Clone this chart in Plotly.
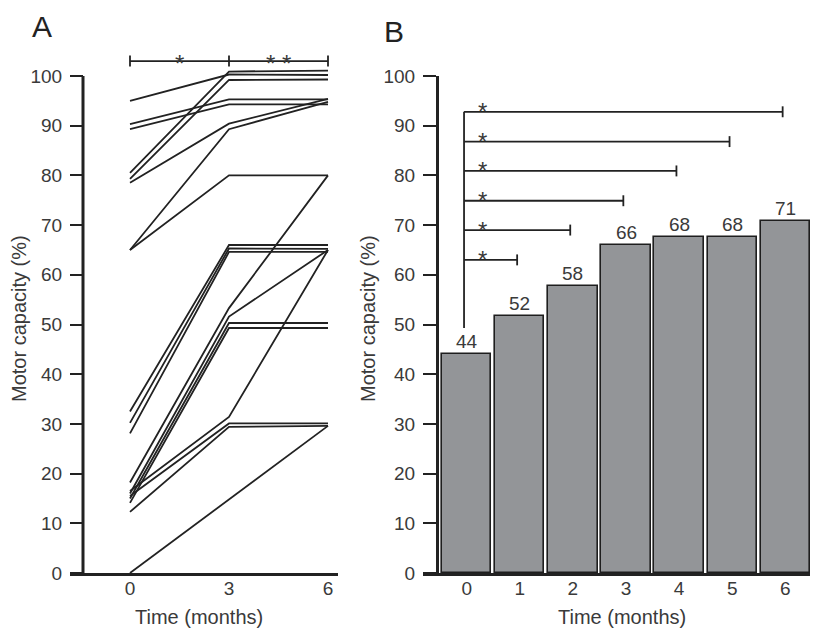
import plotly.graph_objects as go

# page is shown with the browser's default 8px body margin
OFF = 8
W, H = 818 - OFF, 631 - OFF

# ---------------- data ----------------
months_a = [0, 3, 6]
capacity_0m = [95.0, 80.5, 79.3, 90.3, 89.3, 78.5, 65.0, 65.0, 32.5, 30.2, 28.1,
               18.2, 16.0, 15.0, 14.1, 16.5, 15.5, 12.3, 0.0]
capacity_3m = [100.3, 100.9, 99.2, 95.3, 94.3, 90.4, 89.3, 80.0, 66.0, 65.3, 64.6,
               53.3, 51.6, 50.3, 49.3, 31.4, 30.1, 29.4, 14.8]
capacity_6m = [100.2, 101.1, 99.3, 95.3, 94.3, 95.4, 94.8, 80.0, 66.0, 65.2, 64.6,
               80.0, 65.0, 50.3, 49.3, 65.0, 30.1, 29.6, 29.6]
sig_a_labels = ["*", "* *"]
sig_a_level = 103.0

months_b = [0, 1, 2, 3, 4, 5, 6]
mean_capacity = [44.0, 51.7, 57.8, 66.0, 67.7, 67.7, 70.9]
bracket_end_month = [1, 2, 3, 4, 5, 6]
bracket_level = [63.0, 69.0, 74.9, 80.9, 86.8, 92.8]
bracket_start_value = 49.3

y_ticks = [0, 10, 20, 30, 40, 50, 60, 70, 80, 90, 100]
x_ticks_a = [0, 3, 6]
x_ticks_b = [0, 1, 2, 3, 4, 5, 6]

# ---------------- layout helpers (page pixels -> paper) ----------------
def px_x(p):
    return (p - OFF) / W

def px_y(p):
    return 1 - (p - OFF) / H

Y0_PX, Y100_PX = 573.0, 76.0
PPU = (Y0_PX - Y100_PX) / 100.0          # pixels per % unit
YA_TOP = 106.0                           # panel A range top (lines exceed 100)
YA_DOM = [px_y(Y0_PX), px_y(Y0_PX - YA_TOP * PPU)]
YB_DOM = [px_y(Y0_PX), px_y(Y100_PX)]
XA_DOM = [px_x(70), px_x(338)]
XB_DOM = [px_x(423), 1.0]
XA_RANGE = [-60 / 33.0, 6 + 10 / 33.0]
XB_RANGE = [-(466.7 - 423) / 53.1, 6 + (818 - 785.3) / 53.1]

FONT = "Liberation Sans, Arial, sans-serif"
TXT = "#3a3a3a"
INK = "#222222"
FS = 19
FS_TITLE = 20
FS_STAR = 24

fig = go.Figure()

# Panel A: individual patient lines
for a, b, c in zip(capacity_0m, capacity_3m, capacity_6m):
    fig.add_trace(go.Scatter(x=months_a, y=[a, b, c], mode="lines",
                             line=dict(color=INK, width=1.8),
                             xaxis="x", yaxis="y", showlegend=False,
                             hoverinfo="skip"))

# Panel B: bars
fig.add_trace(go.Bar(x=months_b, y=mean_capacity, width=0.93,
                     marker=dict(color="#939598", line=dict(color="#1e1e1e", width=1.6)),
                     xaxis="x2", yaxis="y2", showlegend=False, hoverinfo="skip"))

shapes = []
annotations = []

# Panel A y-axis line (only 0..100)
shapes.append(dict(type="line", xref="paper", yref="y", x0=px_x(83), x1=px_x(83),
                   y0=y_ticks[0], y1=y_ticks[-1], line=dict(color=INK, width=3)))

# Panel A significance bracket
tick_half = 1.1
shapes.append(dict(type="line", xref="x", yref="y", x0=months_a[0], x1=months_a[-1],
                   y0=sig_a_level, y1=sig_a_level, line=dict(color=INK, width=1.8)))
for m in months_a:
    shapes.append(dict(type="line", xref="x", yref="y", x0=m, x1=m,
                       y0=sig_a_level - tick_half, y1=sig_a_level + tick_half,
                       line=dict(color=INK, width=1.8)))
for i, lab in enumerate(sig_a_labels):
    xm = (months_a[i] + months_a[i + 1]) / 2.0
    annotations.append(dict(text=lab, x=xm, y=sig_a_level, xref="x", yref="y",
                            showarrow=False, yanchor="middle", yshift=-2,
                            font=dict(family=FONT, size=FS_STAR, color=TXT)))

# Panel B brackets
x_left = months_b[0] - 0.05
shapes.append(dict(type="line", xref="x2", yref="y2", x0=x_left, x1=x_left,
                   y0=bracket_start_value, y1=max(bracket_level),
                   line=dict(color=INK, width=1.8)))
for m, lv in zip(bracket_end_month, bracket_level):
    xr = m - 0.05
    shapes.append(dict(type="line", xref="x2", yref="y2", x0=x_left, x1=xr,
                       y0=lv, y1=lv, line=dict(color=INK, width=1.8)))
    shapes.append(dict(type="line", xref="x2", yref="y2", x0=xr, x1=xr,
                       y0=lv - 1.1, y1=lv + 1.1, line=dict(color=INK, width=1.8)))
    annotations.append(dict(text="*", x=0.3, y=lv, xref="x2", yref="y2",
                            showarrow=False, yanchor="middle", yshift=0,
                            font=dict(family=FONT, size=FS_STAR, color=TXT)))

# bar value labels
for m, v in zip(months_b, mean_capacity):
    annotations.append(dict(text=f"{v:.0f}", x=m, y=v, xref="x2", yref="y2",
                            showarrow=False, yanchor="bottom", yshift=0,
                            font=dict(family=FONT, size=FS, color=TXT)))

# panel letters
annotations.append(dict(text="A", x=px_x(42), y=px_y(26), xref="paper", yref="paper",
                        showarrow=False, xanchor="center", yanchor="middle",
                        font=dict(family=FONT, size=30, color=INK)))
annotations.append(dict(text="B", x=px_x(394), y=px_y(31), xref="paper", yref="paper",
                        showarrow=False, xanchor="center", yanchor="middle",
                        font=dict(family=FONT, size=30, color=INK)))

# axis titles
for xc in (199, 622):
    annotations.append(dict(text="Time (months)", x=px_x(xc), y=px_y(617),
                            xref="paper", yref="paper", showarrow=False,
                            xanchor="center", yanchor="middle",
                            font=dict(family=FONT, size=FS_TITLE, color=TXT)))
for xc in (19, 368):
    annotations.append(dict(text="Motor capacity (%)", x=px_x(xc), y=px_y(319),
                            xref="paper", yref="paper", showarrow=False, textangle=-90,
                            xanchor="center", yanchor="middle",
                            font=dict(family=FONT, size=FS_TITLE, color=TXT)))

axis_common = dict(showgrid=False, zeroline=False, automargin=False,
                   tickfont=dict(family=FONT, size=FS, color=TXT))

fig.update_layout(
    width=W, height=H, margin=dict(l=0, r=0, t=0, b=0),
    paper_bgcolor="white", plot_bgcolor="white", template=None,
    showlegend=False, bargap=0,
    xaxis=dict(domain=XA_DOM, range=XA_RANGE, anchor="y", tickvals=x_ticks_a,
               ticks="", showline=True, linewidth=3, linecolor=INK,
               ticklabelstandoff=-4, **axis_common),
    yaxis=dict(domain=YA_DOM, range=[0, YA_TOP], anchor="free", position=px_x(83),
               tickvals=y_ticks, ticks="outside", ticklen=13, tickwidth=2, tickcolor=INK,
               showline=False, ticklabelstandoff=4, **axis_common),
    xaxis2=dict(domain=XB_DOM, range=XB_RANGE, anchor="y2", tickvals=x_ticks_b,
                ticks="", showline=True, linewidth=3, linecolor=INK,
                ticklabelstandoff=-4, **axis_common),
    yaxis2=dict(domain=YB_DOM, range=[0, 100], anchor="free", position=px_x(437),
                tickvals=y_ticks, ticks="outside", ticklen=13, tickwidth=2, tickcolor=INK,
                showline=True, linewidth=3, linecolor=INK, ticklabelstandoff=4,
                **axis_common),
    shapes=shapes, annotations=annotations,
)

fig.write_html("out.html")
